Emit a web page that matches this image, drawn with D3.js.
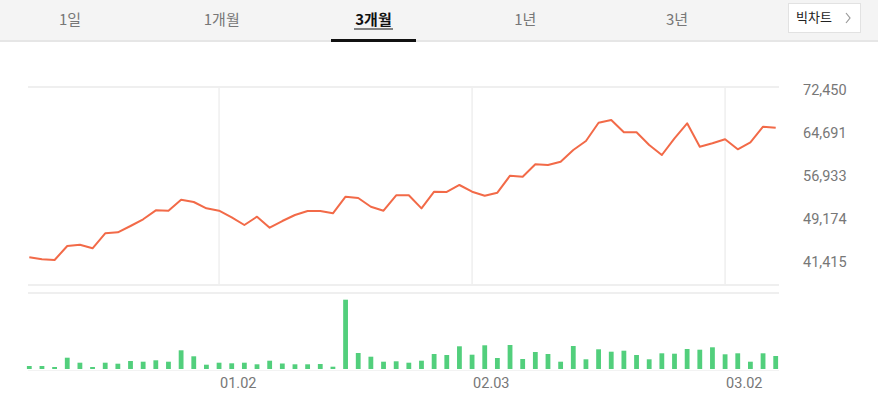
<!DOCTYPE html>
<html>
<head>
<meta charset="utf-8">
<script src="https://cdn.jsdelivr.net/npm/d3@7"></script>
<style>
  body { margin: 0; background: #fff; font-family: "Noto Sans CJK KR", "Noto Sans", sans-serif; }
  svg { display: block; }
</style>
</head>
<body>
<script>
// closing prices, 60 trading days
const prices = [
  42260, 41900, 41780, 44300, 44540, 43890, 46590, 46770, 47910, 49120,
  50740, 50670, 52660, 52240, 51100, 50670, 49480, 48090, 49590, 47600,
  48810, 49900, 50620, 50620, 50200, 53200, 52960, 51390, 50670, 53450,
  53450, 51100, 54100, 54050, 55310, 54100, 53380, 53920, 56990, 56810,
  59040, 58920, 59510, 61620, 63250, 66550, 67040, 64820, 64820, 62530,
  60720, 63740, 66440, 62220, 62830, 63560, 61750, 63010, 65830, 65650
];
// volume (thousand shares)
const volumes = [
  60, 60, 40, 226, 126, 40, 126, 106, 160, 146,
  174, 146, 374, 254, 86, 126, 114, 126, 94, 166,
  110, 94, 94, 100, 46, 1386, 320, 246, 146, 154,
  126, 166, 300, 280, 454, 286, 474, 220, 480, 200,
  340, 300, 146, 460, 194, 394, 346, 366, 280, 194,
  314, 306, 400, 386, 434, 294, 314, 146, 314, 260
];
const yTicks = [72450, 64691, 56933, 49174, 41415];
const xTickIdx = [15, 35, 55];
const xTickLabels = ["01.02", "02.03", "03.02"];
const tabs = ["1일", "1개월", "3개월", "1년", "3년"];
const activeTab = "3개월";

const W = 878, H = 403;
const svg = d3.select("body").append("svg").attr("width", W).attr("height", H);

// header tabs
svg.append("rect").attr("x", 0).attr("y", 0).attr("width", W).attr("height", 41).attr("fill", "#f4f4f4");
svg.append("rect").attr("x", 0).attr("y", 40).attr("width", W).attr("height", 2).attr("fill", "#e6e6e6");

const tabX = d3.scalePoint().domain(tabs).range([70, 677]);
svg.selectAll("text.tab")
  .data(tabs)
  .enter()
  .append("text")
  .attr("class", "tab")
  .attr("x", d => tabX(d))
  .attr("y", 25)
  .attr("text-anchor", "middle")
  .attr("font-size", 15)
  .attr("font-weight", d => d === activeTab ? 700 : 400)
  .attr("fill", d => d === activeTab ? "#111" : "#777")
  .text(d => d);
svg.append("rect").attr("x", 331).attr("y", 39).attr("width", 85).attr("height", 3).attr("fill", "#111");
svg.append("line").attr("x1", 354).attr("x2", 393).attr("y1", 29).attr("y2", 29).attr("stroke", "#111").attr("stroke-width", 1);

// big chart button
svg.append("rect").attr("x", 788.5).attr("y", 3.5).attr("width", 72).attr("height", 29)
  .attr("fill", "#fff").attr("stroke", "#e2e2e2");
svg.append("text").attr("x", 796).attr("y", 22).attr("font-size", 13).attr("fill", "#222").text("빅차트");
svg.append("path").attr("d", "M846,13 L850,18 L846,23").attr("fill", "none").attr("stroke", "#999").attr("stroke-width", 1.2);

// scales
const x = d3.scaleLinear().domain([0, prices.length - 1]).range([29.3, 775.7]);
const y = d3.scaleLinear().domain([41415, 72450]).range([262, 90]);
const yVol = d3.scaleLinear().domain([0, 1400]).range([369, 299]);

const left = 28, right = 779;
const grid = "#efefef";

// frame lines
[87, 285, 293].forEach(gy => {
  svg.append("line").attr("x1", left).attr("x2", right).attr("y1", gy).attr("y2", gy)
    .attr("stroke", grid).attr("stroke-width", 2);
});
svg.append("line").attr("x1", left).attr("x2", right).attr("y1", 370.5).attr("y2", 370.5)
  .attr("stroke", "#f3f3f3").attr("stroke-width", 1);

// vertical grid
svg.selectAll("line.vgrid")
  .data(xTickIdx)
  .enter()
  .append("line")
  .attr("class", "vgrid")
  .attr("x1", d => x(d)).attr("x2", d => x(d))
  .attr("y1", 87).attr("y2", 285)
  .attr("stroke", grid).attr("stroke-width", 1.5);

// price line
const line = d3.line().x((d, i) => x(i)).y(d => y(d));
svg.append("path")
  .datum(prices)
  .attr("d", line)
  .attr("fill", "none")
  .attr("stroke", "#f26a48")
  .attr("stroke-width", 2)
  .attr("stroke-linejoin", "round");

// volume bars
svg.selectAll("rect.vol")
  .data(volumes)
  .enter()
  .append("rect")
  .attr("class", "vol")
  .attr("x", (d, i) => x(i) - 2.4)
  .attr("width", 4.8)
  .attr("y", d => yVol(d))
  .attr("height", d => yVol(0) - yVol(d))
  .attr("fill", "#52cf7c");

// y labels
svg.selectAll("text.ylab")
  .data(yTicks)
  .enter()
  .append("text")
  .attr("class", "ylab")
  .attr("x", 803)
  .attr("y", d => y(d) + 5)
  .attr("font-family", "Roboto, sans-serif")
  .attr("font-size", 14.5)
  .attr("fill", "#777")
  .text(d => d3.format(",")(d));

// x labels
svg.selectAll("text.xlab")
  .data(xTickIdx)
  .enter()
  .append("text")
  .attr("class", "xlab")
  .attr("x", d => x(d) + 1)
  .attr("y", 388)
  .attr("font-family", "Roboto, sans-serif")
  .attr("font-size", 14.5)
  .attr("fill", "#777")
  .text((d, i) => xTickLabels[i]);
</script>
</body>
</html>
